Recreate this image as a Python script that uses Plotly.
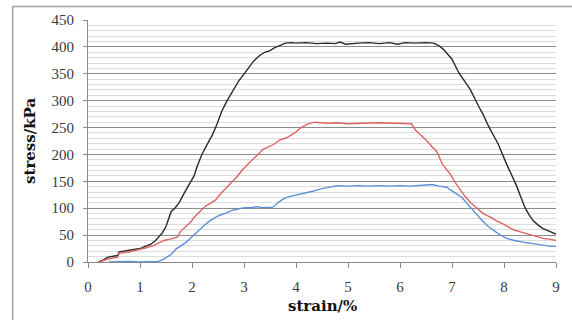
import plotly.graph_objects as go

# ---- data ----
black_strain = [0.2, 0.3, 0.38, 0.57, 0.6, 0.8, 1.0, 1.1, 1.21, 1.3, 1.43, 1.5, 1.6, 1.67, 1.75, 1.85, 1.96, 2.04, 2.1,
                2.19, 2.3, 2.39, 2.48, 2.57, 2.67, 2.78, 2.9, 3.02, 3.1, 3.18, 3.3, 3.4, 3.5, 3.6, 3.7, 3.79, 3.9, 4.0,
                4.2, 4.4, 4.6, 4.75, 4.85, 4.95, 5.2, 5.4, 5.6, 5.8, 5.95, 6.1, 6.3, 6.5, 6.65, 6.75, 6.84, 6.92, 7.0,
                7.13, 7.25, 7.35, 7.51, 7.6, 7.7, 7.8, 7.89, 8.05, 8.15, 8.24, 8.32, 8.4, 8.48, 8.56, 8.65, 8.75, 8.9, 9.0]
black_stress = [0, 4, 9, 12, 19, 22, 25, 29, 33, 40, 54, 66, 94, 100, 110, 128, 148, 160, 178,
                200, 220, 236, 256, 280, 299, 318, 337, 352, 363, 373, 384, 390, 393, 399, 403, 407, 408, 407,
                408, 406, 407, 406, 409, 405, 407, 408, 406, 408, 405, 408, 407, 408, 407, 402, 395, 386, 377,
                352, 336, 321, 290, 274, 253, 236, 219, 182, 162, 142, 122, 102, 88, 77, 69, 62, 56, 52]

red_strain = [0.22, 0.4, 0.57, 0.6, 0.8, 0.99, 1.1, 1.27, 1.46, 1.6, 1.72, 1.78, 1.9, 1.97, 2.07, 2.19, 2.26, 2.35,
              2.45, 2.55, 2.7, 2.86, 2.96, 3.05, 3.15, 3.25, 3.37, 3.45, 3.56, 3.69, 3.82, 3.92, 4.0, 4.1, 4.23, 4.36,
              4.6, 4.8, 5.0, 5.3, 5.6, 5.9, 6.1, 6.22, 6.3, 6.4, 6.52, 6.62, 6.71, 6.81, 6.9, 6.97, 7.06, 7.16, 7.25,
              7.35, 7.48, 7.6, 7.75, 7.85, 7.98, 8.08, 8.18, 8.35, 8.56, 8.75, 8.9, 9.0]
red_stress = [0, 6, 9, 16, 19, 23, 26, 31, 40, 43, 46, 57, 67, 74, 86, 98, 104, 109,
              115, 127, 142, 158, 170, 180, 189, 198, 210, 213, 218, 227, 231, 237, 242, 250, 257, 260,
              258, 259, 257, 258, 259, 258, 258, 257, 245, 236, 225, 214, 205, 183, 172, 163, 148, 134, 122,
              111, 100, 90, 83, 77, 71, 66, 60, 55, 49, 44, 42, 40]

blue_strain = [0.4, 0.6, 0.8, 1.0, 1.2, 1.35, 1.45, 1.53, 1.6, 1.69, 1.8, 1.88, 1.97, 2.07, 2.15, 2.23, 2.35, 2.51,
               2.65, 2.77, 2.9, 3.02, 3.15, 3.25, 3.34, 3.45, 3.56, 3.65, 3.75, 3.85, 4.0, 4.1, 4.3, 4.48, 4.65, 4.8,
               5.0, 5.2, 5.4, 5.6, 5.8, 6.0, 6.2, 6.4, 6.62, 6.75, 6.9, 6.97, 7.03, 7.19, 7.28, 7.35, 7.45, 7.6,
               7.7, 7.79, 7.9, 8.05, 8.2, 8.37, 8.55, 8.75, 8.9, 9.0]
blue_stress = [0, 1, 1, 0, 0, 1, 5, 9, 14, 24, 31, 36, 44, 53, 62, 68, 77, 86,
               91, 96, 99, 101, 101, 103, 101, 101, 102, 110, 117, 121, 124, 127, 131, 136, 139, 142,
               141, 142, 141, 142, 141, 142, 141, 142, 144, 141, 139, 134, 130, 120, 110, 102, 92, 75,
               66, 59, 52, 44, 40, 37, 34, 31, 29, 29]

x_ticks = [0, 1, 2, 3, 4, 5, 6, 7, 8, 9]
y_ticks = [0, 50, 100, 150, 200, 250, 300, 350, 400, 450]

series = [
    (black_strain, black_stress, "#2a2a2a"),
    (red_strain, red_stress, "#dc6464"),
    (blue_strain, blue_stress, "#5a8fd8"),
]

fig = go.Figure()
for xs, ys, col in series:
    fig.add_trace(go.Scatter(x=xs, y=ys, mode="lines", line=dict(color=col, width=1.4),
                             showlegend=False, hoverinfo="skip"))

tick_font = dict(family="Liberation Serif, DejaVu Serif, serif", size=15, color="#3a3a3a")
title_font = dict(family="DejaVu Serif, serif", size=15, color="#111111")

fig.update_layout(
    width=572, height=320,
    margin=dict(l=88, r=12, t=19, b=58),
    paper_bgcolor="white", plot_bgcolor="white",
    xaxis=dict(range=[0, 9], tickvals=x_ticks, ticktext=[str(v) for v in x_ticks],
               showgrid=False, zeroline=False, showline=True, linecolor="#8a8a8a", linewidth=1,
               ticks="outside", ticklen=5, tickcolor="#8a8a8a", tickfont=tick_font,
               ticklabelstandoff=6),
    yaxis=dict(range=[0, 450], tickvals=y_ticks, ticktext=[str(v) for v in y_ticks],
               showgrid=True, gridcolor="#8c8c8c", gridwidth=1, zeroline=False,
               showline=True, linecolor="#8a8a8a", linewidth=1,
               ticks="outside", ticklen=4, tickcolor="#8a8a8a", tickfont=tick_font,
               ticklabelstandoff=6,
               minor=dict(dtick=10, showgrid=True, gridcolor="#dcdcdc", gridwidth=1, ticks="")),
    annotations=[
        dict(text="<b>strain/%</b>", x=4.5, xref="x", y=-0.18, yref="paper", xanchor="center",
             yanchor="middle", showarrow=False, font=title_font),
        dict(text="<b>stress/kPa</b>", x=-0.124, xref="paper", y=0.5, yref="paper", xanchor="center",
             yanchor="middle", textangle=-90, showarrow=False, font=title_font),
    ],
    shapes=[
        dict(type="rect", xref="paper", yref="paper", x0=-0.161, x1=1.2, y0=-0.5, y1=1.056,
             line=dict(color="#a0a0a0", width=1.5), fillcolor="rgba(0,0,0,0)", layer="above"),
    ],
)

fig.write_html("out.html", config={"displayModeBar": False},
               post_script="document.body.style.margin='0px';")
